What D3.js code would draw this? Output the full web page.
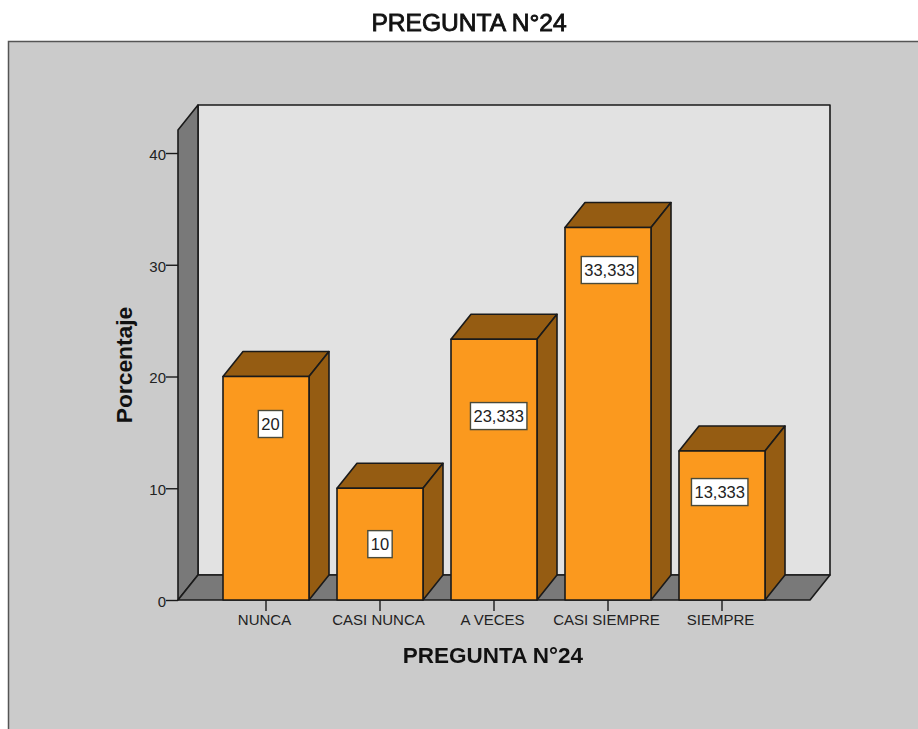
<!DOCTYPE html>
<html>
<head>
<meta charset="utf-8">
<script src="https://cdn.jsdelivr.net/npm/d3@7"></script>
<style>
    body { margin: 0; background: #fff; }
    svg { display: block; font-family: "Liberation Sans", Arial, sans-serif; filter: blur(0.4px); }
    .tick text { fill: #222; }
</style>
</head>
<body>
<svg class="bar-chart" width="918" height="729"></svg>
<script>
const categories = ['NUNCA', 'CASI NUNCA', 'A VECES', 'CASI SIEMPRE', 'SIEMPRE'];
const percentages = [20, 10, 23.333, 33.333, 13.333];
const valueLabels = ['20', '10', '23,333', '33,333', '13,333'];
// where each value box sits, in axis units
const labelAnchors = [15.75, 5, 16.46, 29.53, 9.66];
const yTicks = [0, 10, 20, 30, 40];

const svg = d3.select('.bar-chart');

const depth = { x: 20, y: -25 };
const inkColor = '#1a1a1a';
// the boxes are not quite centred on their bars
const labelNudge = [4.5, 0, 4.7, 1.5, -2.3];

const x = d3.scaleBand()
    .domain(categories)
    .range([178, 810])
    .paddingInner(0.2456)
    .paddingOuter(0.3947);

const y = d3.scaleLinear()
    .domain([0, 42.06])
    .range([600, 130]);

const poly = (pts, fill) => svg.append('polygon')
    .attr('points', pts.map(p => p.join(',')).join(' '))
    .attr('fill', fill)
    .attr('stroke', inkColor)
    .attr('stroke-width', 1.6)
    .attr('stroke-linejoin', 'round');

// outer frame, open on the right and at the bottom
svg.append('rect')
    .attr('x', 8.5).attr('y', 41.5)
    .attr('width', 940).attr('height', 720)
    .attr('fill', '#cbcbcb')
    .attr('stroke', '#555')
    .attr('stroke-width', 1.5);

const [x0, x1] = x.range();
const [y0, y1] = y.range();

// back wall, side wall, floor
poly([[x0 + depth.x, y1 + depth.y], [x1 + depth.x, y1 + depth.y], [x1 + depth.x, y0 + depth.y], [x0 + depth.x, y0 + depth.y]], '#e2e2e2');
poly([[x0, y1], [x0 + depth.x, y1 + depth.y], [x0 + depth.x, y0 + depth.y], [x0, y0]], '#797979');
poly([[x0, y0], [x0 + depth.x, y0 + depth.y], [x1 + depth.x, y0 + depth.y], [x1, y0]], '#797979');

// bars
categories.forEach((c, i) => {
    const left = x(c);
    const right = left + x.bandwidth();
    const top = y(percentages[i]);
    poly([[left, top], [left + depth.x, top + depth.y], [right + depth.x, top + depth.y], [right, top]], '#955c12');
    poly([[right, top], [right + depth.x, top + depth.y], [right + depth.x, y0 + depth.y], [right, y0]], '#955c12');
    poly([[left, top], [right, top], [right, y0], [left, y0]], '#fb991e');
});

// axes
const yAxisG = svg.append('g')
    .attr('transform', `translate(${x0} 0)`)
    .call(d3.axisLeft(y).tickValues(yTicks).tickSize(12).tickPadding(0));
yAxisG.select('.domain').remove();
yAxisG.selectAll('line').attr('stroke', inkColor).attr('stroke-width', 1.4);
yAxisG.selectAll('text').attr('font-size', 15).attr('dy', '0.42em');

const xAxisG = svg.append('g')
    .attr('transform', `translate(0 ${y0})`)
    .call(d3.axisBottom(x).tickSize(11).tickPadding(3));
xAxisG.select('.domain').remove();
xAxisG.selectAll('line').attr('stroke', inkColor).attr('stroke-width', 1.4);
xAxisG.selectAll('text').attr('font-size', 15).attr('transform', 'translate(-1.5 0)');

// value boxes
const labelG = svg.append('g')
    .selectAll('g')
    .data(categories)
    .enter()
    .append('g')
    .attr('transform', (d, i) => `translate(${x(d) + x.bandwidth() / 2 + labelNudge[i]} ${y(labelAnchors[i])})`);

labelG.append('text')
    .attr('text-anchor', 'middle')
    .attr('dy', '0.36em')
    .attr('font-size', 16.5)
    .attr('fill', '#222')
    .text((d, i) => valueLabels[i])
    .each(function () {
        const w = this.getComputedTextLength() + 6;
        d3.select(this.parentNode).insert('rect', 'text')
            .attr('x', -w / 2).attr('y', -13.5)
            .attr('width', w).attr('height', 27)
            .attr('fill', '#fff')
            .attr('stroke', '#4a4a3a')
            .attr('stroke-width', 1.4);
    });

// titles
svg.append('text')
    .attr('x', 469).attr('y', 31)
    .attr('text-anchor', 'middle')
    .attr('font-size', 24.6)
    .attr('fill', '#111')
    .attr('stroke', '#111')
    .attr('stroke-width', 0.85)
    .text('PREGUNTA N°24');

svg.append('text')
    .attr('x', 493).attr('y', 663)
    .attr('text-anchor', 'middle')
    .attr('font-size', 22.5)
    .attr('font-weight', 'bold')
    .attr('fill', '#111')
    .text('PREGUNTA N°24');

svg.append('text')
    .attr('transform', 'translate(132 365) rotate(-90)')
    .attr('text-anchor', 'middle')
    .attr('font-size', 22.8)
    .attr('font-weight', 'bold')
    .attr('fill', '#111')
    .text('Porcentaje');
</script>
</body>
</html>
